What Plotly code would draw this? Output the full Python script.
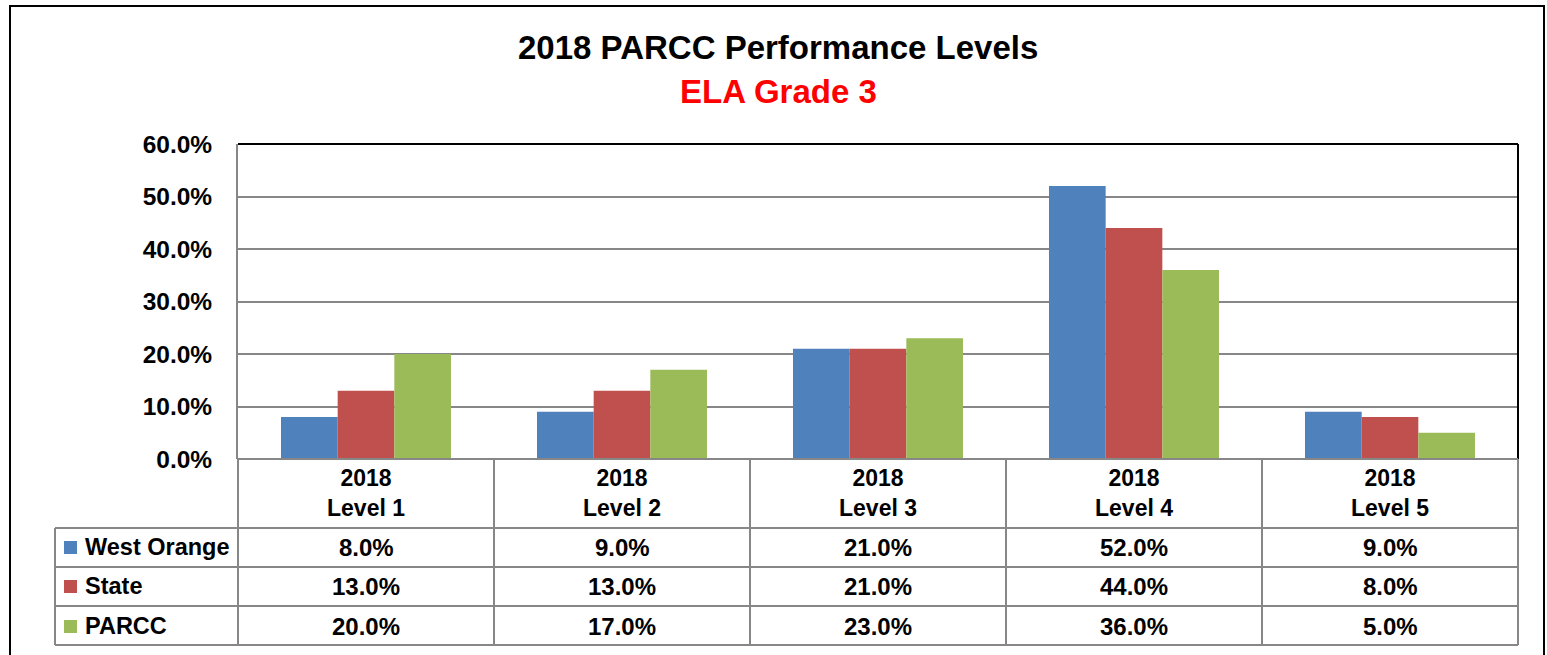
import plotly.graph_objects as go

# --- data ---
categories = ["2018<br>Level 1", "2018<br>Level 2", "2018<br>Level 3", "2018<br>Level 4", "2018<br>Level 5"]
series_names = ["West Orange", "State", "PARCC"]
west_orange = [8.0, 9.0, 21.0, 52.0, 9.0]
state = [13.0, 13.0, 21.0, 44.0, 8.0]
parcc = [20.0, 17.0, 23.0, 36.0, 5.0]
y_ticks = [0, 10, 20, 30, 40, 50, 60]

title = "2018 PARCC Performance Levels"
subtitle = "ELA Grade 3"
colors = ["#4F81BD", "#C0504D", "#9BBB59"]
FONT = "Liberation Sans, Arial, sans-serif"

# pixel geometry of the plot area (Excel-like layout)
W, H = 1547, 655
L, R, T, B = 238, 1518, 144, 459


def px_x(px):
    return (px - L) / (R - L)


def px_y(py):
    return (B - py) / (B - T)


fig = go.Figure()
for name, vals, col in zip(series_names, [west_orange, state, parcc], colors):
    fig.add_trace(go.Bar(x=categories, y=vals, name=name, marker_color=col,
                         marker_line_width=0, showlegend=False))

GRID = "#878787"
shapes = []
# plot area frame: top/right black
shapes.append(dict(type="line", xref="paper", yref="paper", x0=0, x1=1, y0=1, y1=1,
                   line=dict(color="black", width=2)))
shapes.append(dict(type="line", xref="paper", yref="paper", x0=1, x1=1, y0=0, y1=1,
                   line=dict(color="black", width=2)))
# outer chart border
shapes.append(dict(type="rect", xref="paper", yref="paper",
                   x0=px_x(10), x1=px_x(1544), y0=px_y(720), y1=px_y(6),
                   line=dict(color="black", width=2), layer="below"))

# data table grid
row_lines = [528, 567, 606, 645]
n = len(categories)
for i in range(n + 1):
    shapes.append(dict(type="line", xref="paper", yref="paper", x0=i / n, x1=i / n,
                       y0=px_y(B), y1=px_y(645), line=dict(color=GRID, width=2)))
shapes.append(dict(type="line", xref="paper", yref="paper", x0=px_x(55), x1=px_x(55),
                   y0=px_y(528), y1=px_y(645), line=dict(color=GRID, width=2)))
shapes.append(dict(type="line", xref="paper", yref="paper", x0=0, x1=1,
                   y0=0, y1=0, line=dict(color=GRID, width=2)))
for ry in row_lines:
    shapes.append(dict(type="line", xref="paper", yref="paper", x0=px_x(55), x1=1,
                       y0=px_y(ry), y1=px_y(ry), line=dict(color=GRID, width=2)))


def note(text, x, y, size, color="black", xref="paper", xanchor="center"):
    return dict(text=text, xref=xref, yref="paper", x=x, y=y, showarrow=False,
                xanchor=xanchor, yanchor="middle",
                font=dict(family=FONT, size=size, color=color, weight="bold"))


annotations = [
    note(title, px_x(778), px_y(48), 33),
    note(subtitle, px_x(778), px_y(92), 33, color="#FF0000"),
]

# category header cells
for c in categories:
    annotations.append(note(c, c, px_y(493), 23, xref="x"))

# value rows with legend keys
row_centers = [547, 586, 626]
for name, vals, col, ry in zip(series_names, [west_orange, state, parcc], colors, row_centers):
    shapes.append(dict(type="rect", xref="paper", yref="paper",
                       x0=px_x(64), x1=px_x(77), y0=px_y(ry + 7), y1=px_y(ry - 6),
                       fillcolor=col, line=dict(width=0)))
    annotations.append(note(name, px_x(83), px_y(ry), 23.5, xanchor="left"))
    for c, v in zip(categories, vals):
        annotations.append(note(f"{v:.1f}%", c, px_y(ry), 24, xref="x"))

fig.update_layout(
    width=W, height=H,
    margin=dict(l=L, r=W - R, t=T, b=H - B, pad=0),
    paper_bgcolor="white", plot_bgcolor="white",
    barmode="group", bargap=0.336, bargroupgap=0,
    shapes=shapes, annotations=annotations,
    font=dict(family=FONT, color="black"),
    xaxis=dict(range=[-0.5, n - 0.5], showticklabels=False, showgrid=False,
               showline=False, zeroline=False, ticks=""),
    yaxis=dict(range=[0, 60], tickvals=y_ticks, ticktext=[f"{v:.1f}%" for v in y_ticks],
               showgrid=True, gridcolor=GRID, gridwidth=2, zeroline=False,
               showline=True, linecolor=GRID, linewidth=2, ticks="",
               ticklabelstandoff=19,
               tickfont=dict(family=FONT, size=24.5, color="black", weight="bold")),
)

fig.write_html("out.html", config={"displayModeBar": False},
               post_script="document.body.style.margin='0';")
